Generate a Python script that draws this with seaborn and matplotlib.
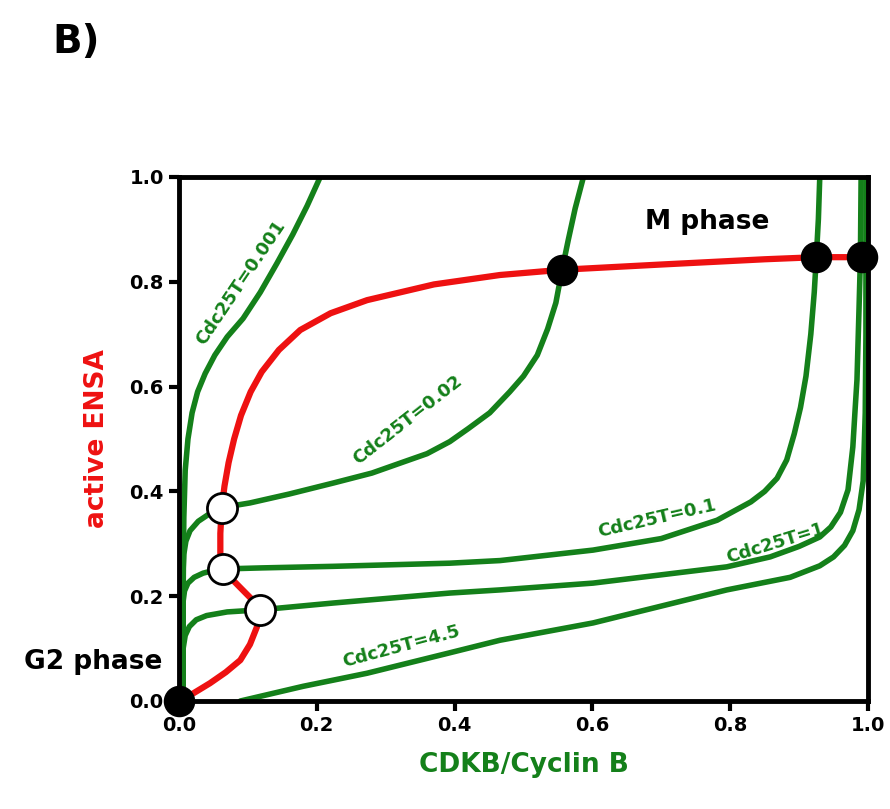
import numpy as np
import pandas as pd
import seaborn as sns
import matplotlib.pyplot as plt

# values (CDKB/Cyclin B on x, active ENSA on y)
red_x = [0.0, 0.02, 0.045, 0.068, 0.089, 0.103, 0.113, 0.118, 0.105, 0.09, 0.075, 0.064, 0.06, 0.06,
         0.062, 0.066, 0.072, 0.08, 0.09, 0.104, 0.12, 0.145, 0.176, 0.22, 0.273, 0.37, 0.466,
         0.556, 0.7, 0.85, 0.925, 0.991]
red_y = [0.0, 0.014, 0.034, 0.055, 0.078, 0.108, 0.141, 0.174, 0.195, 0.215, 0.235, 0.252, 0.28,
         0.32, 0.368, 0.41, 0.455, 0.5, 0.545, 0.59, 0.628, 0.67, 0.708, 0.74, 0.765, 0.795, 0.813,
         0.823, 0.833, 0.843, 0.847, 0.847]

c0001_x = [0.006, 0.006, 0.007, 0.009, 0.013, 0.019, 0.027, 0.038, 0.052, 0.07, 0.093, 0.118,
           0.142, 0.165, 0.186, 0.205]
c0001_y = [0.0, 0.2, 0.35, 0.44, 0.50, 0.55, 0.59, 0.625, 0.66, 0.695, 0.73, 0.78, 0.835, 0.89,
           0.945, 1.0]

c002_x = [0.006, 0.006, 0.007, 0.01, 0.016, 0.028, 0.045, 0.062, 0.08, 0.103, 0.16, 0.224, 0.28,
          0.321, 0.36, 0.393, 0.42, 0.451, 0.48, 0.50, 0.52, 0.535, 0.547, 0.556, 0.565, 0.575,
          0.587]
c002_y = [0.0, 0.25, 0.28, 0.305, 0.325, 0.343, 0.358, 0.368, 0.373, 0.378, 0.395, 0.416, 0.435,
          0.454, 0.472, 0.495, 0.52, 0.55, 0.59, 0.62, 0.66, 0.71, 0.76, 0.823, 0.88, 0.94, 1.0]

c01_x = [0.006, 0.006, 0.008, 0.013, 0.022, 0.035, 0.05, 0.064, 0.12, 0.224, 0.393, 0.466, 0.601,
         0.70, 0.781, 0.83, 0.85, 0.868, 0.882, 0.893, 0.902, 0.91, 0.917, 0.922, 0.925, 0.928,
         0.93]
c01_y = [0.0, 0.19, 0.21, 0.225, 0.236, 0.244, 0.249, 0.252, 0.254, 0.257, 0.263, 0.268, 0.288,
         0.31, 0.345, 0.38, 0.40, 0.425, 0.46, 0.51, 0.56, 0.62, 0.70, 0.78, 0.847, 0.92, 1.0]

c1_x = [0.006, 0.006, 0.009, 0.015, 0.025, 0.04, 0.07, 0.118, 0.224, 0.393, 0.466, 0.601, 0.795,
        0.858, 0.90, 0.93, 0.946, 0.96, 0.971, 0.978, 0.981, 0.984, 0.987, 0.989, 0.99]
c1_y = [0.0, 0.1, 0.125, 0.142, 0.155, 0.163, 0.17, 0.174, 0.187, 0.206, 0.212, 0.225, 0.256,
        0.275, 0.295, 0.313, 0.332, 0.36, 0.403, 0.485, 0.55, 0.613, 0.75, 0.847, 1.0]

c45_x = [0.089, 0.18, 0.273, 0.393, 0.466, 0.601, 0.795, 0.887, 0.93, 0.95, 0.966, 0.978, 0.987,
         0.993, 0.996, 0.997, 0.997, 0.997]
c45_y = [0.0, 0.028, 0.053, 0.092, 0.116, 0.149, 0.212, 0.236, 0.258, 0.275, 0.297, 0.325, 0.365,
         0.42, 0.55, 0.7, 0.85, 1.0]

stable_x = [0.0, 0.556, 0.925, 0.991]
stable_y = [0.0, 0.823, 0.847, 0.847]
unstable_x = [0.062, 0.064, 0.118]
unstable_y = [0.368, 0.252, 0.174]

green_curves = {
    "Cdc25T=0.001": (c0001_x, c0001_y),
    "Cdc25T=0.02": (c002_x, c002_y),
    "Cdc25T=0.1": (c01_x, c01_y),
    "Cdc25T=1": (c1_x, c1_y),
    "Cdc25T=4.5": (c45_x, c45_y),
}

GREEN = "#14801a"
RED = "#ee1111"

sns.set_style("ticks")
plt.rcParams['font.family'] = ['DejaVu Sans']
plt.rcParams['font.weight'] = 'bold'
plt.rcParams['text.color'] = 'black'
plt.rcParams['xtick.color'] = 'black'
plt.rcParams['ytick.color'] = 'black'

fig = plt.figure(figsize=(8.9, 8.09), dpi=100)
ax = fig.add_axes([179 / 890, 1 - 701 / 809, 689 / 890, 524 / 809])

for name, (xs, ys) in green_curves.items():
    df = pd.DataFrame({"x": xs, "y": ys})
    sns.lineplot(data=df, x="x", y="y", sort=False, estimator=None, color=GREEN,
                 linewidth=4, ax=ax, solid_joinstyle="round", solid_capstyle="round")

red_df = pd.DataFrame({"x": red_x, "y": red_y})
sns.lineplot(data=red_df, x="x", y="y", sort=False, estimator=None, color=RED,
             linewidth=4.5, ax=ax, solid_joinstyle="round", solid_capstyle="round")

sns.scatterplot(x=stable_x, y=stable_y, s=470, color="black", edgecolor="black",
                linewidth=1, ax=ax, clip_on=False, zorder=5)
sns.scatterplot(x=unstable_x, y=unstable_y, s=470, color="white", edgecolor="black",
                linewidth=2, ax=ax, clip_on=False, zorder=5)

# curve labels
labels = [("Cdc25T=0.001", 0.089, 0.798, 56),
          ("Cdc25T=0.02", 0.332, 0.536, 38),
          ("Cdc25T=0.1", 0.693, 0.349, 13),
          ("Cdc25T=1", 0.865, 0.301, 17),
          ("Cdc25T=4.5", 0.323, 0.104, 15)]
for txt, lx, ly, rot in labels:
    ax.text(lx, ly, txt, color=GREEN, fontsize=13, fontweight="bold", rotation=rot,
            rotation_mode="anchor", ha="center", va="center")

ax.text(0.766, 0.914, "M phase", fontsize=19, fontweight="bold", ha="center", va="center",
        color="black")
ax.text(-0.024, 0.074, "G2 phase", fontsize=19, fontweight="bold", ha="right", va="center",
        color="black")

ax.set_xlim(0, 1)
ax.set_ylim(0, 1)
ticks = [0.0, 0.2, 0.4, 0.6, 0.8, 1.0]
ax.set_xticks(ticks)
ax.set_yticks(ticks)
ax.set_xticklabels([f"{t:.1f}" for t in ticks], fontsize=14, fontweight="bold", color="black")
ax.set_yticklabels([f"{t:.1f}" for t in ticks], fontsize=14, fontweight="bold", color="black")
ax.tick_params(direction="out", length=7, width=3, pad=4, top=False, right=False,
               colors="black")
for sp in ax.spines.values():
    sp.set_visible(True)
    sp.set_linewidth(3.5)
    sp.set_color("black")

ax.set_xlabel("CDKB/Cyclin B", color=GREEN, fontsize=19, fontweight="bold", labelpad=12)
ax.set_ylabel("active ENSA", color=RED, fontsize=19, fontweight="bold", labelpad=14)

fig.text(52 / 890, 1 - 42 / 809, "B)", fontsize=28, fontweight="bold", ha="left", va="center",
         color="black")

fig.savefig("out.png", dpi=100)
